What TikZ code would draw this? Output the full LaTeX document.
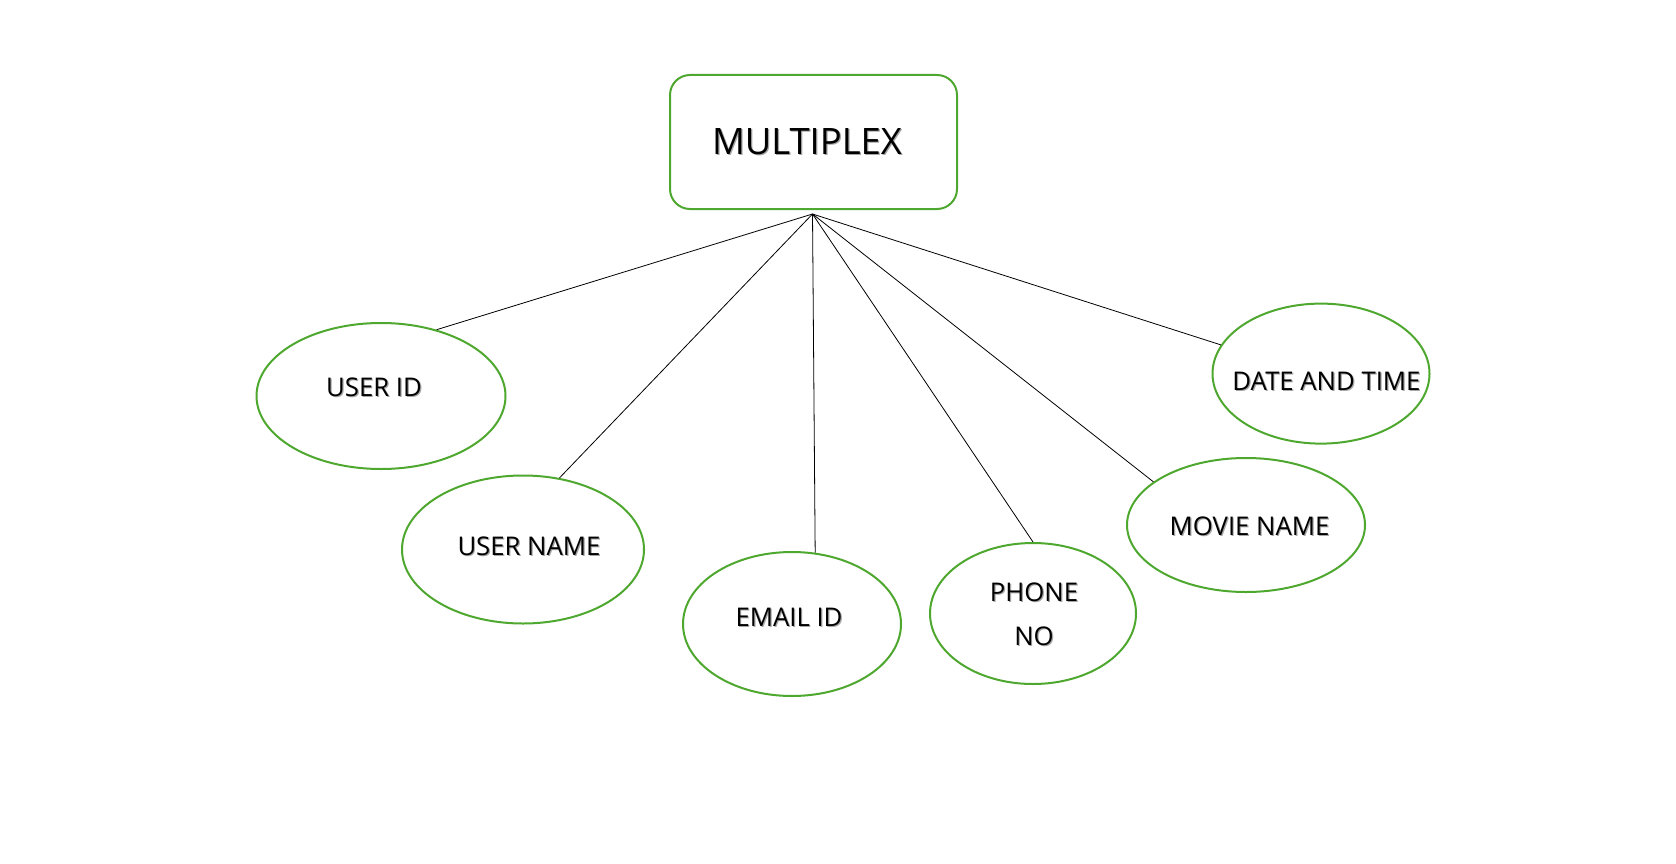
\documentclass[tikz,border=0pt]{standalone}
\usepackage{fontspec}
\setmainfont{Open Sans}
\usetikzlibrary{shapes.geometric}
\definecolor{erGreen}{RGB}{78,167,46}
\newcommand\shtext[1]{\makebox[0pt][l]{\hspace{0.9pt}\raisebox{-0.9pt}{\textcolor{black!35}{#1}}}#1}
\tikzset{
  entitybox/.style={draw=erGreen, line width=1.5pt, rounded corners=15pt, minimum width=215.25pt, minimum height=100.5pt, inner sep=0pt},
  attr/.style={draw=erGreen, line width=1.5pt, ellipse, inner sep=0pt},
  attrtext/.style={font=\fontsize{19.3pt}{22pt}\selectfont, inner sep=0pt, align=center},
  link/.style={draw=black, line width=0.6pt}
}
\begin{document}
\begin{tikzpicture}[x=0.75pt,y=-0.75pt]
\useasboundingbox (0,0) rectangle (1676,863);
% entity
\node[entitybox] (multiplex) at (813.5,142) {};
\node[font=\fontsize{27.3pt}{30pt}\selectfont, inner sep=0pt] (multiplextext) at (807,142) {\shtext{MULTIPLEX}};
\coordinate (hub) at (812.5,214);
% attributes
\node[attr, minimum width=186.75pt, minimum height=109.5pt] (uid) at (381,396) {};
\node[attrtext] (uidtext) at (374,388) {\shtext{USER ID}};
\node[attr, minimum width=181.5pt, minimum height=111pt] (uname) at (523,549.5) {};
\node[attrtext] (unametext) at (529,547) {\shtext{USER NAME}};
\node[attr, minimum width=163.5pt, minimum height=108pt] (email) at (792,624) {};
\node[attrtext] (emailtext) at (789,618) {\shtext{EMAIL ID}};
\node[attr, minimum width=154.5pt, minimum height=105.75pt] (phone) at (1033,613.5) {};
\node[attrtext] (phonetext1) at (1034,593) {\shtext{PHONE}};
\node[attrtext] (phonetext2) at (1034,637) {\shtext{NO}};
\node[attr, minimum width=178.5pt, minimum height=100.5pt] (movie) at (1246,525) {};
\node[attrtext] (movietext) at (1249.5,527) {\shtext{MOVIE NAME}};
\node[attr, minimum width=162.75pt, minimum height=105pt] (date) at (1321,373.6) {};
\node[attrtext] (datetext) at (1326.5,381.6) {\shtext{DATE AND TIME}};
% connectors
\draw[link] (hub) -- (uid.50.4);
\draw[link] (hub) -- (uname.63.9);
\draw[link] (hub) -- (email.72.5);
\draw[link] (hub) -- (phone.90);
\draw[link] (hub) -- (movie.155.3);
\draw[link] (hub) -- (date.164.4);
\end{tikzpicture}
\end{document}
